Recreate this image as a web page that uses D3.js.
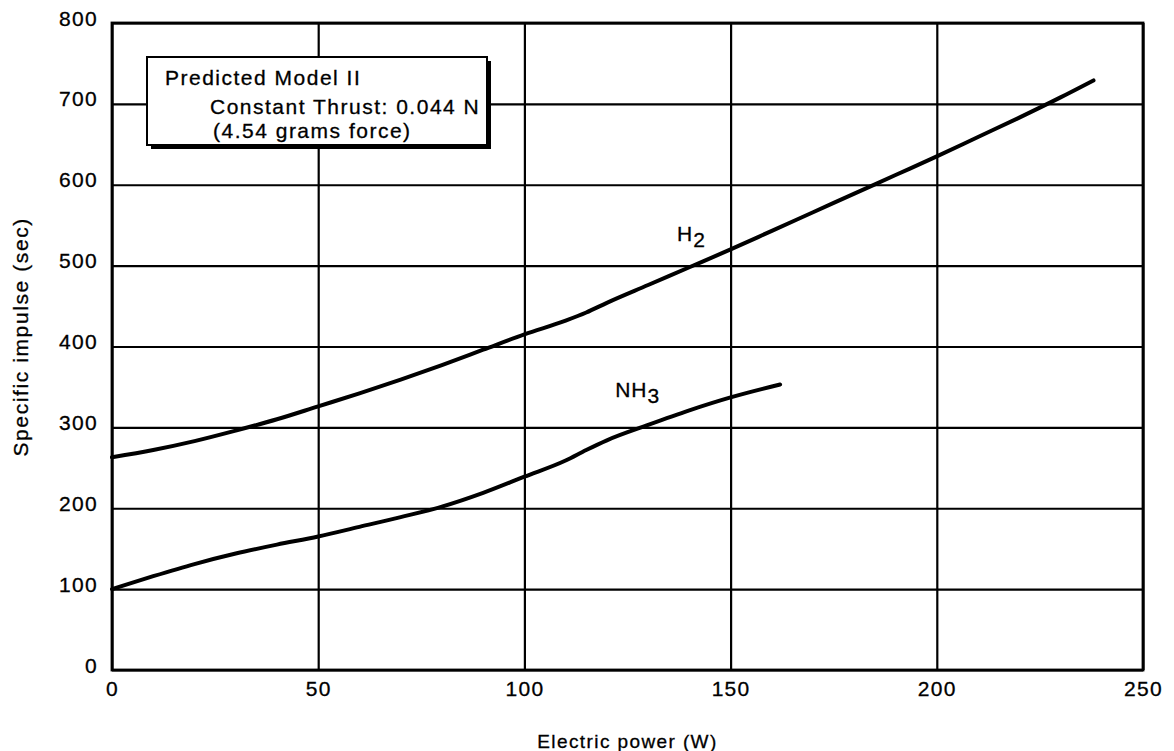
<!DOCTYPE html>
<html>
<head>
<meta charset="utf-8">
<script src="https://cdn.jsdelivr.net/npm/d3@7"></script>
<style>
  html, body { margin: 0; padding: 0; background: #fff; }
  svg { display: block; }
  text { font-family: "Liberation Sans", Arial, Helvetica, sans-serif; fill: #000; stroke: #000; stroke-width: 0.3px; }
</style>
</head>
<body>
<svg id="chart" width="1174" height="751"></svg>
<script>
// Specific impulse vs. electric power, predicted Model II, constant thrust
const xTicks = [0, 50, 100, 150, 200, 250];
const yTicks = [0, 100, 200, 300, 400, 500, 600, 700, 800];

const h2Power   = [0, 10, 20, 30, 40, 50, 60, 70, 80, 90, 100, 110, 115, 120, 130, 140, 150, 160, 170, 180, 190, 200, 210, 220, 230, 238];
const h2Isp     = [263, 272, 283, 296, 310, 326, 342, 359, 377, 396, 415, 432, 442, 454, 476, 498, 520, 543, 566, 589, 612, 635, 659, 683, 708, 729];

const nh3Power  = [0, 10, 20, 30, 40, 50, 60, 70, 80, 90, 100, 110, 115, 120, 130, 140, 150, 162];
const nh3Isp    = [100, 116, 131, 144, 155, 165, 177, 189, 202, 219, 239, 259, 272, 284, 303, 321, 337, 353];

const seriesLabels = [
  { name: "H", sub: "2", x: 137, y: 530 },
  { name: "NH", sub: "3", x: 122, y: 338 }
];

const noteLines = ["Predicted Model II", "Constant Thrust: 0.044 N", "(4.54 grams force)"];

const svg = d3.select("#chart");
const margin = { top: 23, right: 31, bottom: 81, left: 112 };
const W = 1174 - margin.left - margin.right;
const H = 751 - margin.top - margin.bottom;
const g = svg.append("g").attr("transform", `translate(${margin.left},${margin.top})`);

const x = d3.scaleLinear().domain([0, 250]).range([0, W]);
const y = d3.scaleLinear().domain([0, 800]).range([H, 0]);

const fontSize = 21;
const spacing = "1.3px";

// Grid lines
g.append("g")
  .attr("class", "grid-x")
  .attr("transform", `translate(0,${H})`)
  .call(d3.axisBottom(x).tickValues(xTicks).tickSize(-H).tickFormat(""))
  .call(s => s.select(".domain").remove())
  .call(s => s.selectAll("line").attr("stroke", "#000").attr("stroke-width", 2.2));

g.append("g")
  .attr("class", "grid-y")
  .call(d3.axisLeft(y).tickValues(yTicks).tickSize(-W).tickFormat(""))
  .call(s => s.select(".domain").remove())
  .call(s => s.selectAll("line").attr("stroke", "#000").attr("stroke-width", 2.2));

// Frame
g.append("rect")
  .attr("x", 0).attr("y", 0).attr("width", W).attr("height", H)
  .attr("fill", "none").attr("stroke", "#000").attr("stroke-width", 2.8);

// Tick labels
g.append("g")
  .call(d3.axisLeft(y).tickValues(yTicks).tickSize(0).tickPadding(14).tickFormat(d3.format("d")))
  .call(s => s.select(".domain").remove())
  .call(s => s.selectAll("text")
    .attr("font-size", fontSize)
    .attr("letter-spacing", spacing)
    .attr("font-family", "Liberation Sans, Arial, sans-serif")
    .attr("dy", "0.1em"));

g.append("g")
  .attr("transform", `translate(0,${H})`)
  .call(d3.axisBottom(x).tickValues(xTicks).tickSize(0).tickPadding(11).tickFormat(d3.format("d")))
  .call(s => s.select(".domain").remove())
  .call(s => s.selectAll("text")
    .attr("font-size", fontSize)
    .attr("letter-spacing", spacing)
    .attr("font-family", "Liberation Sans, Arial, sans-serif"));

// Axis titles
svg.append("text")
  .attr("x", margin.left + x(125))
  .attr("y", 748)
  .attr("text-anchor", "middle")
  .attr("font-size", 19)
  .attr("letter-spacing", "1.4px")
  .text("Electric power (W)");

svg.append("text")
  .attr("transform", `translate(28,${margin.top + y(412)}) rotate(-90)`)
  .attr("text-anchor", "middle")
  .attr("font-size", 21)
  .attr("letter-spacing", "1.6px")
  .text("Specific impulse (sec)");

// Curves
const line = d3.line()
  .x(d => x(d[0]))
  .y(d => y(d[1]))
  .curve(d3.curveMonotoneX);

const h2 = h2Power.map((p, i) => [p, h2Isp[i]]);
const nh3 = nh3Power.map((p, i) => [p, nh3Isp[i]]);

[h2, nh3].forEach(data => {
  g.append("path")
    .datum(data)
    .attr("d", line)
    .attr("fill", "none")
    .attr("stroke", "#000")
    .attr("stroke-width", 4)
    .attr("stroke-linecap", "round");
});

// Curve labels with subscripts
seriesLabels.forEach(l => {
  const t = g.append("text")
    .attr("x", x(l.x))
    .attr("y", y(l.y))
    .attr("font-size", fontSize)
    .attr("letter-spacing", "1px");
  t.append("tspan").text(l.name);
  t.append("tspan").attr("dy", 6).text(l.sub);
});

// Note box with drop shadow
const box = { x: 147 - margin.left, y: 57 - margin.top, w: 340, h: 88 };
g.append("rect")
  .attr("x", box.x + 4).attr("y", box.y + 4)
  .attr("width", box.w).attr("height", box.h)
  .attr("fill", "#000");
g.append("rect")
  .attr("x", box.x).attr("y", box.y)
  .attr("width", box.w).attr("height", box.h)
  .attr("fill", "#fff").attr("stroke", "#000").attr("stroke-width", 2);

const noteX = [box.x + 18, box.x + 63, box.x + 66];
const noteY = [box.y + 28, box.y + 57, box.y + 81];
noteLines.forEach((txt, i) => {
  g.append("text")
    .attr("x", noteX[i])
    .attr("y", noteY[i])
    .attr("font-size", fontSize)
    .attr("letter-spacing", "1.5px")
    .text(txt);
});
</script>
</body>
</html>
